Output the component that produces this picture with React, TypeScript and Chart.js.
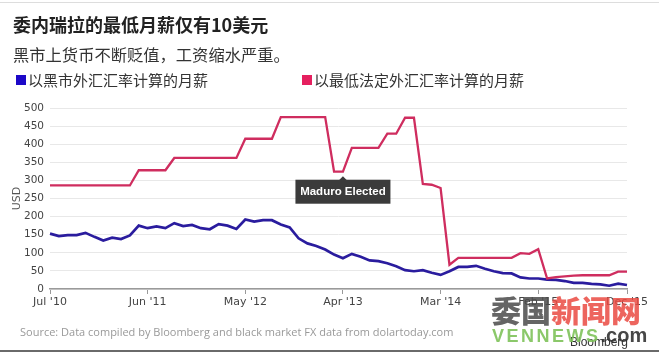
import React, { useEffect, useRef } from 'react';
import { Chart, registerables } from 'chart.js';

Chart.register(...registerables);

// Monthly categories, Jul 2010 – Dec 2015
const months: string[] = [
  "Jul '10", "Aug '10", "Sep '10", "Oct '10", "Nov '10", "Dec '10",
  "Jan '11", "Feb '11", "Mar '11", "Apr '11", "May '11", "Jun '11",
  "Jul '11", "Aug '11", "Sep '11", "Oct '11", "Nov '11", "Dec '11",
  "Jan '12", "Feb '12", "Mar '12", "Apr '12", "May '12", "Jun '12",
  "Jul '12", "Aug '12", "Sep '12", "Oct '12", "Nov '12", "Dec '12",
  "Jan '13", "Feb '13", "Mar '13", "Apr '13", "May '13", "Jun '13",
  "Jul '13", "Aug '13", "Sep '13", "Oct '13", "Nov '13", "Dec '13",
  "Jan '14", "Feb '14", "Mar '14", "Apr '14", "May '14", "Jun '14",
  "Jul '14", "Aug '14", "Sep '14", "Oct '14", "Nov '14", "Dec '14",
  "Jan '15", "Feb '15", "Mar '15", "Apr '15", "May '15", "Jun '15",
  "Jul '15", "Aug '15", "Sep '15", "Oct '15", "Nov '15", "Dec '15",
];

// Shown x-axis tick labels
const tickLabels: string[] = ["Jul '10", "Jun '11", "May '12", "Apr '13", "Mar '14", "Feb '15", "Dec '15"];

// Monthly wage at black-market FX rate (USD)
const blackMarketWage: number[] = [
  153, 146, 149, 149, 155, 144, 134, 142, 138, 148,
  175, 168, 173, 168, 182, 174, 177, 168, 165, 179,
  175, 166, 192, 186, 190, 190, 178, 170, 140, 126,
  119, 109, 95, 85, 97, 89, 79, 77, 71, 63,
  52, 49, 52, 45, 39, 49, 61, 61, 64, 56,
  49, 44, 43, 32, 29, 29, 26, 25, 22, 17,
  17, 14, 13, 9, 15, 11,
];

// Monthly wage at lowest official FX rate (USD)
const officialWage: number[] = [
  286, 286, 286, 286, 286, 286, 286, 286, 286, 286,
  328, 328, 328, 328, 362, 362, 362, 362, 362, 362,
  362, 362, 415, 415, 415, 415, 475, 475, 475, 475,
  475, 475, 324, 324, 390, 390, 390, 390, 429, 429,
  473, 473, 290, 288, 279, 67, 86, 86, 86, 86,
  86, 86, 86, 99, 97, 110, 29, 33, 35, 37,
  38, 38, 38, 38, 48, 48,
];

const seriesNames: string[] = ['以黑市外汇汇率计算的月薪', '以最低法定外汇汇率计算的月薪'];
const annotationMonth = "Apr '13";
const annotationLabel = 'Maduro Elected';

const blueLine = '#2a1c9e';
const redLine = '#cf2d5f';
const blueSwatch = '#1c08c8';
const redSwatch = '#e5205f';

const annotationPlugin = {
  id: 'maduroAnnotation',
  afterDatasetsDraw(chart: any) {
    const { ctx, scales } = chart;
    const xs = scales.x;
    const ys = scales.y;
    const i = months.indexOf(annotationMonth);
    const px = xs.getPixelForValue(i);
    const py = ys.getPixelForValue(officialWage[i]);
    const tipY = py + 4.5;
    const boxTop = tipY + 3.5;
    const w = 95;
    const h = 24;
    ctx.save();
    ctx.fillStyle = '#3b3b3b';
    ctx.beginPath();
    ctx.moveTo(px, tipY);
    ctx.lineTo(px + 4, boxTop + 0.5);
    ctx.lineTo(px - 4, boxTop + 0.5);
    ctx.closePath();
    ctx.fill();
    ctx.fillRect(px - w / 2, boxTop, w, h);
    ctx.fillStyle = '#ffffff';
    ctx.font = 'bold 11.5px "Liberation Sans", Arial, sans-serif';
    ctx.textAlign = 'center';
    ctx.textBaseline = 'middle';
    ctx.fillText(annotationLabel, px, boxTop + h / 2 + 0.5);
    ctx.restore();
  },
};

export default function App() {
  const ref = useRef<HTMLCanvasElement>(null);

  useEffect(() => {
    const canvas = ref.current;
    if (!canvas) return;
    const chart = new Chart(canvas, {
      type: 'line',
      data: {
        labels: months,
        datasets: [
          {
            label: seriesNames[1],
            data: officialWage,
            borderColor: redLine,
            borderWidth: 2.3,
            pointRadius: 0,
            tension: 0,
            fill: false,
          },
          {
            label: seriesNames[0],
            data: blackMarketWage,
            borderColor: blueLine,
            borderWidth: 2.7,
            pointRadius: 0,
            tension: 0,
            fill: false,
          },
        ],
      },
      options: {
        responsive: false,
        animation: false,
        events: [],
        layout: { padding: { top: 108, right: 32, bottom: 39, left: 0 } },
        plugins: {
          legend: { display: false },
          title: { display: false },
          tooltip: { enabled: false },
        },
        scales: {
          x: {
            type: 'category',
            offset: false,
            afterBuildTicks: (scale: any) => {
              scale.ticks = scale.ticks.filter((t: any) => tickLabels.includes(months[t.value]));
            },
            afterFit: (scale: any) => {
              scale.height = 25;
            },
            grid: {
              drawOnChartArea: false,
              drawTicks: true,
              tickLength: 5,
              color: '#999999',
              lineWidth: 1,
            },
            border: { display: true, color: '#9a9a9a', width: 1.5 },
            ticks: {
              autoSkip: false,
              maxRotation: 0,
              padding: 2,
              color: '#444444',
              font: { family: '"DejaVu Sans", sans-serif', size: 11 },
            },
          },
          y: {
            min: 0,
            max: 500,
            afterFit: (scale: any) => {
              scale.width = 50;
            },
            grid: { color: '#e8e8e8', lineWidth: 1, drawTicks: false },
            border: { display: false },
            ticks: {
              stepSize: 50,
              padding: 6,
              color: '#444444',
              font: { family: '"DejaVu Sans", sans-serif', size: 10.5 },
            },
            title: {
              display: true,
              text: 'USD',
              color: '#555555',
              padding: { top: 11, bottom: 0 },
              font: { family: '"DejaVu Sans", sans-serif', size: 11 },
            },
          },
        },
      },
      plugins: [annotationPlugin],
    } as any);
    return () => chart.destroy();
  }, []);

  const cjk = '"Noto Sans CJK SC", "Noto Sans", sans-serif';

  return (
    <div
      style={{
        position: 'fixed',
        left: 0,
        top: 0,
        width: 659,
        height: 353,
        background: '#ffffff',
        overflow: 'hidden',
      }}
    >
      <div style={{ position: 'absolute', left: 0, top: 2, width: 659, height: 1, background: '#dddddd' }} />
      <canvas ref={ref} width={659} height={353} style={{ position: 'absolute', left: 0, top: 0, width: 659, height: 353 }} />
      <div
        style={{
          position: 'absolute', left: 13, top: 11, fontFamily: cjk, fontWeight: 700,
          fontSize: 18, lineHeight: '26px', color: '#222222', whiteSpace: 'nowrap',
        }}
      >
        委内瑞拉的最低月薪仅有10美元
      </div>
      <div
        style={{
          position: 'absolute', left: 13, top: 42, fontFamily: cjk, fontSize: 16.3,
          lineHeight: '24px', color: '#333333', whiteSpace: 'nowrap',
        }}
      >
        黑市上货币不断贬值，工资缩水严重。
      </div>
      <div style={{ position: 'absolute', left: 16, top: 75, width: 10, height: 10, background: blueSwatch }} />
      <div
        style={{
          position: 'absolute', left: 28, top: 70, fontFamily: cjk, fontSize: 15,
          lineHeight: '20px', color: '#333333', whiteSpace: 'nowrap',
        }}
      >
        {seriesNames[0]}
      </div>
      <div style={{ position: 'absolute', left: 302, top: 75, width: 10, height: 10, background: redSwatch }} />
      <div
        style={{
          position: 'absolute', left: 314, top: 70, fontFamily: cjk, fontSize: 15,
          lineHeight: '20px', color: '#333333', whiteSpace: 'nowrap',
        }}
      >
        {seriesNames[1]}
      </div>
      <div
        style={{
          position: 'absolute', left: 20, top: 324, fontFamily: '"Open Sans", sans-serif', fontSize: 11,
          lineHeight: '16px', color: '#999999', whiteSpace: 'nowrap',
        }}
      >
        Source: Data compiled by Bloomberg and black market FX data from dolartoday.com
      </div>
      <div
        style={{
          position: 'absolute', left: 570, top: 334, fontFamily: '"Liberation Sans", Arial, sans-serif',
          fontSize: 12, lineHeight: '16px', color: '#333333', whiteSpace: 'nowrap',
        }}
      >
        Bloomberg
      </div>
      <div
        style={{
          position: 'absolute', left: 491, top: 290, fontFamily: cjk, fontWeight: 900, fontSize: 30,
          lineHeight: '38px', whiteSpace: 'nowrap', opacity: 0.85,
        }}
      >
        <span style={{ color: '#4a4a4a' }}>委国</span>
        <span style={{ color: '#ea4a42' }}>新闻网</span>
      </div>
      <div
        style={{
          position: 'absolute', left: 492, top: 323, fontFamily: '"Liberation Sans", Arial, sans-serif',
          fontWeight: 700, fontSize: 18, lineHeight: '24px', whiteSpace: 'nowrap', opacity: 0.9,
        }}
      >
        <span style={{ color: '#7fc35a', letterSpacing: 2.5 }}>VENNEWS</span>
        <span style={{ color: '#333333', fontSize: 20 }}>.com</span>
      </div>
      <div style={{ position: 'absolute', left: 0, top: 350, width: 659, height: 2, background: '#6a6a6a' }} />
    </div>
  );
}
